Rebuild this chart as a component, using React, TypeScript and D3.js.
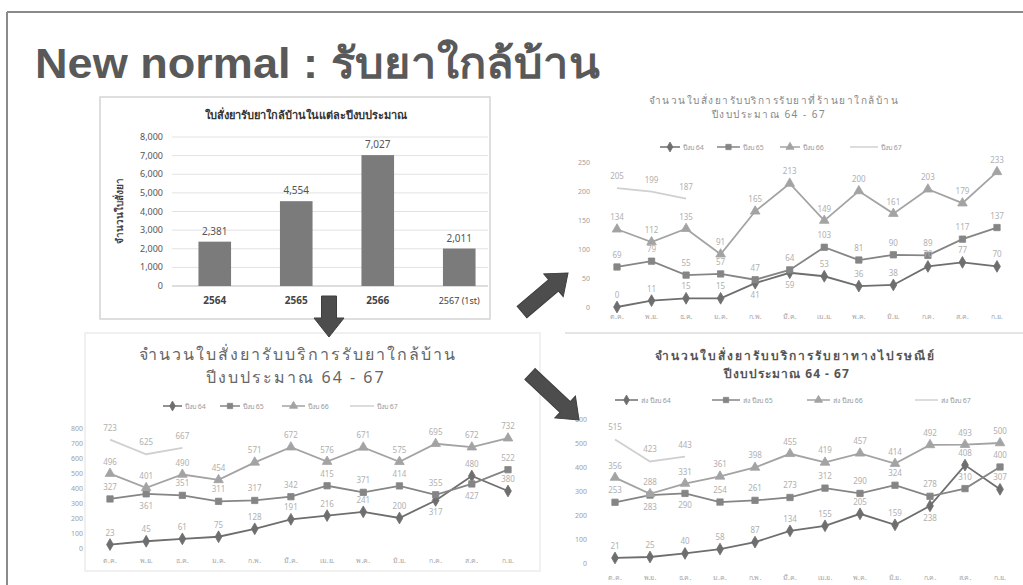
import React from "react";
import * as d3 from "d3";

// ---------- DATA ----------
const barYears = ["2564", "2565", "2566", "2567 (1st)"];
const barValues = [2381, 4554, 7027, 2011];
const barTicks = [0, 1000, 2000, 3000, 4000, 5000, 6000, 7000, 8000];

const months = ["ต.ค.", "พ.ย.", "ธ.ค.", "ม.ค.", "ก.พ.", "มี.ค.", "เม.ย.", "พ.ค.", "มิ.ย.", "ก.ค.", "ส.ค.", "ก.ย."];

// Pharmacy (top right)
const pharm64 = [0, 11, 15, 15, 41, 59, 53, 36, 38, 70, 77, 70];
const pharm65 = [69, 79, 55, 57, 47, 64, 103, 81, 90, 89, 117, 137];
const pharm66 = [134, 112, 135, 91, 165, 213, 149, 200, 161, 203, 179, 233];
const pharm67 = [205, 199, 187];
const pharmTicks = [0, 50, 100, 150, 200, 250];

// Total near-home (bottom left)
const total64 = [23, 45, 61, 75, 128, 191, 216, 241, 200, 317, 480, 380];
const total65 = [327, 361, 351, 311, 317, 342, 415, 371, 414, 355, 427, 522];
const total66 = [496, 401, 490, 454, 571, 672, 576, 671, 575, 695, 672, 732];
const total67 = [723, 625, 667];
const totalTicks = [0, 100, 200, 300, 400, 500, 600, 700, 800];

// Postal (bottom right)
const post64 = [21, 25, 40, 58, 87, 134, 155, 205, 159, 238, 408, 307];
const post65 = [253, 283, 290, 254, 261, 273, 312, 290, 324, 278, 310, 400];
const post66 = [356, 288, 331, 361, 398, 455, 419, 457, 414, 492, 493, 500];
const post67 = [515, 423, 443];
const postTicks = [0, 100, 200, 300, 400, 500, 600];

const seriesNames = ["ปีงบ 64", "ปีงบ 65", "ปีงบ 66", "ปีงบ 67"];
const postNames = ["ส่ง ปีงบ 64", "ส่ง ปีงบ 65", "ส่ง ปีงบ 66", "ส่ง ปีงบ 67"];

// ---------- STYLE ----------
const FONT = "'Noto Sans', 'DejaVu Sans', sans-serif";
const TITLE_FONT = "'Liberation Sans', Arial, 'Noto Sans', sans-serif";
const lineColors = ["#6e6e6e", "#858585", "#a3a3a3", "#d0d0d0"];
const markerKinds = ["diamond", "square", "triangle", "none"];

function Marker({ kind, x, y, color, size }: any) {
  if (kind === "none") return null;
  const symType =
    kind === "diamond" ? d3.symbolDiamond : kind === "square" ? d3.symbolSquare : d3.symbolTriangle;
  const path = d3.symbol().type(symType).size(size)();
  return <path d={path || ""} transform={`translate(${x},${y})`} fill={color} stroke={color} strokeWidth={0.8} />;
}

function LineChart(props: any) {
  const {
    series, names, ticks, xFirst, xLast, yBottom, yTop, yMax, yLabelX, xLabelY,
    legendY, legendItems, titleLines, markerSize, valueFont, axisFont,
  } = props;
  const x = d3.scalePoint<number>().domain(d3.range(12)).range([xFirst, xLast]);
  const y = d3.scaleLinear().domain([0, yMax]).range([yBottom, yTop]);
  const line = d3.line<number>().x((_, i) => x(i) as number).y((v) => y(v));

  // value label positions: above the marker; if two labels collide at the same month,
  // the label of the lower point goes below its marker
  const labelY: number[][] = series.map((s: number[]) => s.map((v) => y(v) - 9));
  for (let i = 0; i < 12; i++) {
    const idx = series.map((_: any, si: number) => si).filter((si: number) => series[si][i] !== undefined);
    idx.sort((a: number, b: number) => series[a][i] - series[b][i]);
    for (let k = 0; k < idx.length - 1; k++) {
      const lo = idx[k], hi = idx[k + 1];
      if (Math.abs(labelY[lo][i] - labelY[hi][i]) < 10) {
        labelY[lo][i] = y(series[lo][i]) + 15;
      }
    }
  }

  return (
    <g>
      {titleLines.map((t: any, i: number) => (
        <text key={"t" + i} x={t.x} y={t.y} textAnchor="middle" fontSize={t.size} fontWeight={t.bold ? "bold" : "normal"}
          fill={t.color} letterSpacing={t.ls} fontFamily={FONT}>{t.text}</text>
      ))}
      {legendItems.map((l: any, i: number) => (
        <g key={"l" + i}>
          <line x1={l.x0} x2={l.x1} y1={legendY} y2={legendY} stroke={lineColors[i]} strokeWidth={1.5} />
          <Marker kind={markerKinds[i]} x={(l.x0 + l.x1) / 2} y={legendY} color={lineColors[i]} size={markerSize * 0.7} />
          <text x={l.x1 + 3} y={legendY + 3} fontSize={axisFont} fill="#9a9a9a" fontFamily={FONT}>{names[i]}</text>
        </g>
      ))}
      {ticks.map((t: number) => (
        <text key={"y" + t} x={yLabelX} y={y(t) + 3} textAnchor="end" fontSize={axisFont} fill="#a0a0a0" fontFamily={FONT}>{t}</text>
      ))}
      {months.map((m, i) => (
        <text key={"m" + i} x={x(i)} y={xLabelY} textAnchor="middle" fontSize={axisFont} fill="#a8a8a8" fontFamily={FONT}>{m}</text>
      ))}
      {series.map((s: number[], si: number) => (
        <g key={"s" + si}>
          <path d={line(s) || ""} fill="none" stroke={lineColors[si]} strokeWidth={1.8} />
          {s.map((v, i) => (
            <Marker key={i} kind={markerKinds[si]} x={x(i)} y={y(v)} color={lineColors[si]} size={markerSize} />
          ))}
        </g>
      ))}
      {series.map((s: number[], si: number) => (
        <g key={"v" + si}>
          {s.map((v, i) => (
            <text key={"v" + i} x={x(i)} y={labelY[si][i]} textAnchor="middle" fontSize={valueFont} fill="#b0b0b0" fontFamily={FONT}>{v}</text>
          ))}
        </g>
      ))}
    </g>
  );
}

function BarChart() {
  const x = d3.scaleBand().domain(barYears).range([174, 500]).paddingInner(0.6).paddingOuter(0.3);
  const y = d3.scaleLinear().domain([0, 8000]).range([286, 137]);
  const fmt = d3.format(",");
  return (
    <g>
      <rect x={100} y={97} width={390} height={222} fill="#fff" stroke="#d4d4d4" strokeWidth={1.5} />
      <text x={306} y={119} textAnchor="middle" fontSize={11} fontWeight="bold" fill="#333" fontFamily={FONT}>
        ใบสั่งยารับยาใกล้บ้านในแต่ละปีงบประมาณ
      </text>
      {barTicks.map((t) => (
        <g key={t}>
          <line x1={172} x2={488} y1={y(t)} y2={y(t)} stroke={t === 0 ? "#bbb" : "#e2e2e2"} strokeWidth={1} />
          <text x={163} y={y(t) + 3} textAnchor="end" fontSize={9} fill="#555" fontFamily={FONT}>{fmt(t)}</text>
        </g>
      ))}
      <text transform="translate(123,211) rotate(-90)" textAnchor="middle" fontSize={10} fontWeight="bold" fill="#444" fontFamily={FONT}>
        จำนวนใบสั่งยา
      </text>
      {barYears.map((c, i) => (
        <g key={c}>
          <rect x={x(c)} y={y(barValues[i])} width={x.bandwidth()} height={y(0) - y(barValues[i])} fill="#7b7b7b" />
          <text x={(x(c) as number) + x.bandwidth() / 2} y={y(barValues[i]) - 7} textAnchor="middle" fontSize={10} fill="#555" fontFamily={FONT}>
            {fmt(barValues[i])}
          </text>
          <text x={(x(c) as number) + x.bandwidth() / 2} y={304} textAnchor="middle" fontSize={i === 3 ? 9 : 10} fontWeight={i === 3 ? "normal" : "bold"} fill="#444" fontFamily={FONT}>
            {c}
          </text>
        </g>
      ))}
    </g>
  );
}

function Arrow({ x1, y1, x2, y2 }: any) {
  const ang = Math.atan2(y2 - y1, x2 - x1);
  const len = Math.hypot(x2 - x1, y2 - y1);
  const sw = 7.5, hw = 15, hl = 19;
  const pts = [
    [0, -sw], [len - hl, -sw], [len - hl, -hw], [len, 0], [len - hl, hw], [len - hl, sw], [0, sw],
  ];
  return (
    <polygon points={pts.map((p) => p.join(",")).join(" ")} transform={`translate(${x1},${y1}) rotate(${(ang * 180) / Math.PI})`}
      fill="#4d4d4d" stroke="#3e3e3e" strokeWidth={1} />
  );
}

export default function App() {
  return (
    <svg width={1023} height={585} style={{ position: "absolute", left: 0, top: 0, background: "#fff" }}>
      <rect x={0} y={0} width={1023} height={585} fill="#fff" />
      <line x1={7} x2={1023} y1={12} y2={12} stroke="#8a8a8a" strokeWidth={2} />
      <line x1={7} x2={7} y1={12} y2={585} stroke="#8a8a8a" strokeWidth={2} />
      <text x={35} y={78} fontSize={42} fontWeight="bold" fill="#595959" fontFamily={TITLE_FONT} textLength={565} lengthAdjust="spacingAndGlyphs">New normal : รับยาใกล้บ้าน</text>

      <BarChart />

      {/* top right */}
      <LineChart
        series={[pharm64, pharm65, pharm66, pharm67]}
        names={seriesNames}
        ticks={pharmTicks}
        xFirst={617} xLast={997} yBottom={307} yTop={162} yMax={250}
        yLabelX={590} xLabelY={319}
        legendY={147}
        legendItems={[{ x0: 660, x1: 680 }, { x0: 717, x1: 740 }, { x0: 780, x1: 800 }, { x0: 850, x1: 878 }]}
        titleLines={[
          { text: "จำนวนใบสั่งยารับบริการรับยาที่ร้านยาใกล้บ้าน", x: 774, y: 104, size: 10, color: "#888", ls: 1.5 },
          { text: "ปีงบประมาณ 64 - 67", x: 769, y: 118, size: 10, color: "#888", ls: 1.5 },
        ]}
        markerSize={40} valueFont={8} axisFont={7}
      />

      {/* bottom left */}
      <rect x={85} y={333} width={455} height={238} fill="none" stroke="#ececec" strokeWidth={1.5} />
      <LineChart
        series={[total64, total65, total66, total67]}
        names={seriesNames}
        ticks={totalTicks}
        xFirst={110} xLast={508} yBottom={548} yTop={428} yMax={800}
        yLabelX={83} xLabelY={563}
        legendY={406}
        legendItems={[{ x0: 163, x1: 182 }, { x0: 220, x1: 240 }, { x0: 282, x1: 305 }, { x0: 350, x1: 374 }]}
        titleLines={[
          { text: "จำนวนใบสั่งยารับบริการรับยาใกล้บ้าน", x: 298, y: 360, size: 16, color: "#666", ls: 2 },
          { text: "ปีงบประมาณ 64 - 67", x: 296, y: 383, size: 16, color: "#666", ls: 2 },
        ]}
        markerSize={40} valueFont={8} axisFont={7}
      />

      {/* bottom right */}
      <line x1={565} x2={1023} y1={333} y2={333} stroke="#dcdcdc" strokeWidth={1.5} />
      <LineChart
        series={[post64, post65, post66, post67]}
        names={postNames}
        ticks={postTicks}
        xFirst={615} xLast={1000} yBottom={563} yTop={419} yMax={600}
        yLabelX={587} xLabelY={580}
        legendY={400}
        legendItems={[{ x0: 615, x1: 638 }, { x0: 712, x1: 740 }, { x0: 807, x1: 830 }, { x0: 915, x1: 938 }]}
        titleLines={[
          { text: "จำนวนใบสั่งยารับบริการรับยาทางไปรษณีย์", x: 795, y: 360, size: 12, bold: true, color: "#555", ls: 2 },
          { text: "ปีงบประมาณ 64 - 67", x: 787, y: 378, size: 12, bold: true, color: "#555", ls: 1 },
        ]}
        markerSize={40} valueFont={8} axisFont={7}
      />

      <Arrow x1={329} y1={296} x2={329} y2={337} />
      <Arrow x1={522} y1={312} x2={568} y2={273} />
      <Arrow x1={530} y1={374} x2={579} y2={420} />
    </svg>
  );
}
